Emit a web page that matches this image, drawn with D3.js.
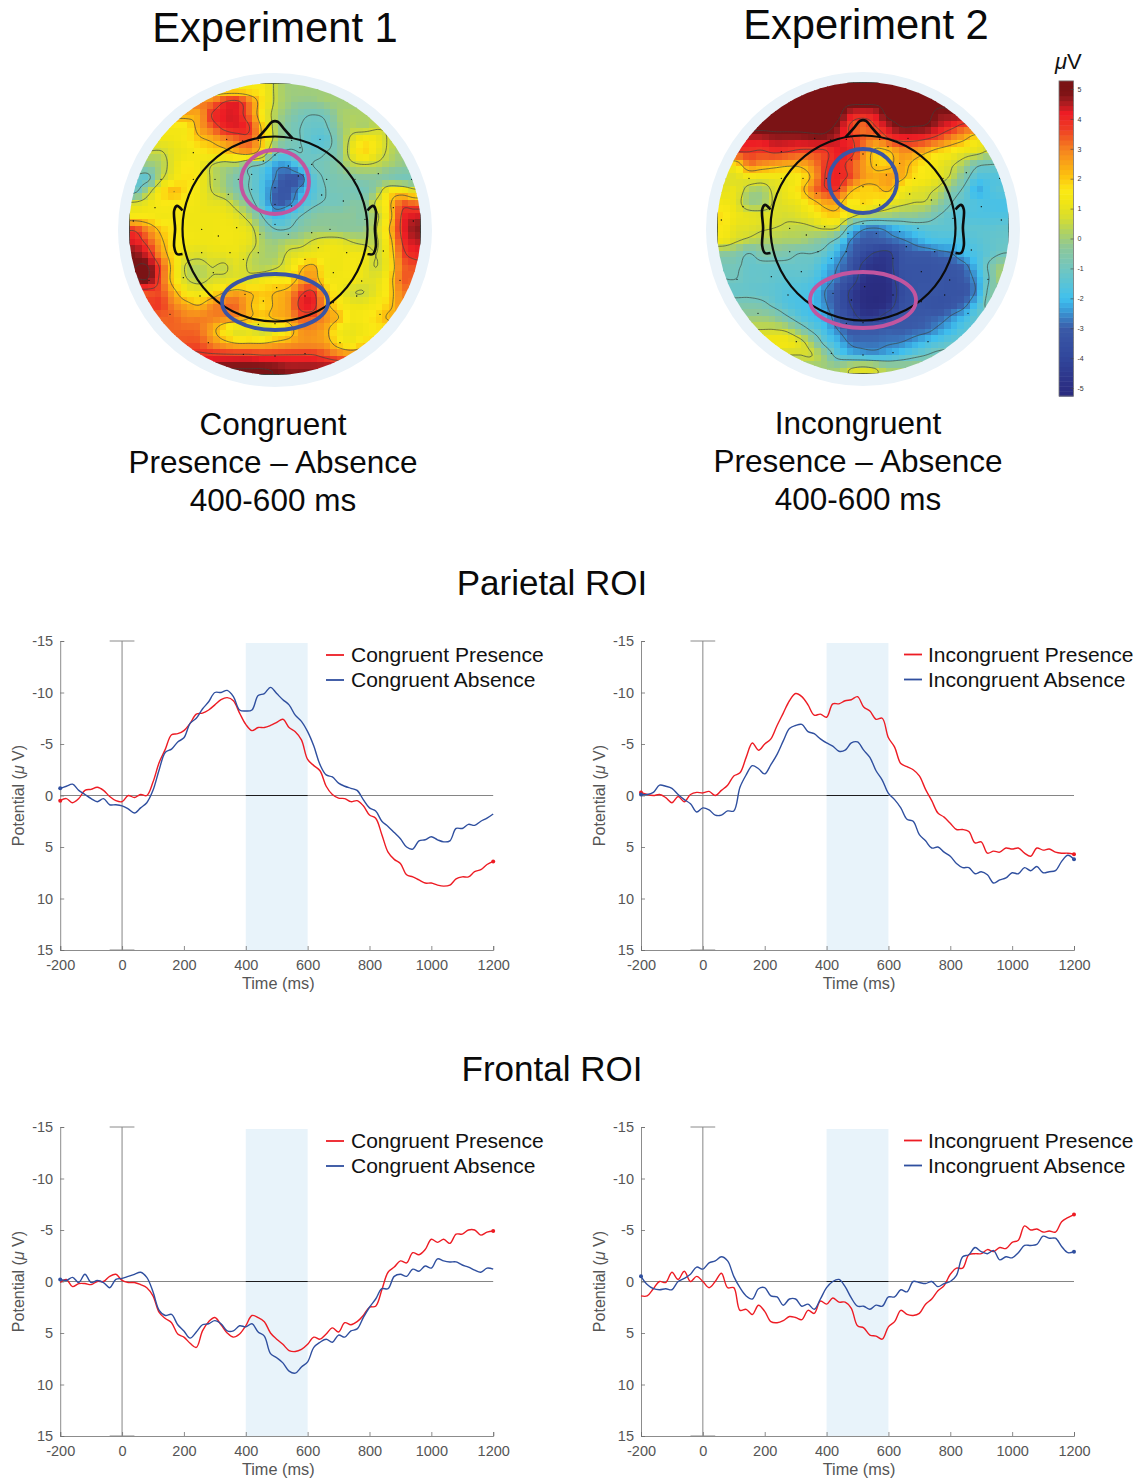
<!DOCTYPE html>
<html>
<head>
<meta charset="utf-8">
<script src="https://cdn.jsdelivr.net/npm/d3@7"></script>
<style>
   html, body { margin: 0; background: #fff; }
   svg { display: block; }
   text { font-family: "Liberation Sans", Arial, sans-serif; }
</style>
</head>
<body>
<svg id="drawing" width="1141" height="1479"></svg>
<script>
const svg = d3.select("svg#drawing");

// time grid of the erp curves, every 20 ms
const times = d3.range(71).map(i => -200 + i * 20);
const xTicks = [-200, 0, 200, 400, 600, 800, 1000, 1200];
const yTicks = [-15, -10, -5, 0, 5, 10, 15];

const parCongPresence = [0.5,0.3,0.7,0.3,-0.5,-0.6,-0.8,-0.5,0.1,0.5,0.6,0,0.2,-0.1,0,-1.3,-3.2,-4.5,-5.9,-6.0,-6.3,-7.0,-7.9,-8.0,-8.3,-8.8,-9.3,-9.5,-9.2,-8.0,-6.9,-6.3,-6.6,-6.6,-6.8,-7.1,-7.4,-6.6,-6.2,-5.4,-3.5,-2.9,-2.4,-0.9,-0.1,0.25,0.3,0.6,0.5,1.0,1.9,2.2,3.8,5.5,6.2,6.6,7.7,7.9,8.2,8.5,8.5,8.7,8.8,8.7,8.1,7.9,7.9,7.4,7.2,6.7,6.4];
const parCongAbsence = [-0.7,-0.9,-1.1,-0.5,-0.1,0.3,0.6,0.3,0.9,0.9,1.0,1.3,1.7,1.2,0.7,-0.5,-2.5,-4.2,-4.5,-5.2,-5.6,-7.0,-7.5,-8.4,-9.1,-10,-10,-10.2,-9.6,-8.3,-8.2,-8.3,-9.7,-9.9,-10.5,-9.9,-9.3,-8.8,-7.8,-7.2,-6.2,-4.8,-3.0,-2.0,-1.8,-1.2,-0.9,-0.7,-0.5,0.4,1.2,1.5,2.5,3.0,3.6,4.2,5.0,5.2,4.4,4.3,4.0,4.3,4.5,4.4,3.2,3.2,2.8,2.9,2.5,2.2,1.8];
const parIncPresence = [-0.3,-0.1,0,-0.1,0.2,0.7,0.1,0.6,-0.1,-0.3,-0.25,-0.4,0,-0.5,-1.0,-1.9,-2.2,-3.7,-5.1,-4.4,-5.0,-5.5,-6.8,-8.0,-9.2,-9.9,-9.6,-8.8,-7.8,-7.9,-7.6,-8.9,-8.9,-9.2,-9.3,-9.6,-8.6,-8.2,-7.4,-7.5,-5.6,-4.7,-3.1,-2.8,-2.5,-1.9,-0.6,0.5,1.7,2.1,2.7,3.3,3.3,3.5,4.6,4.5,5.6,5.4,5.5,5.1,5.2,5.1,5.6,5.9,5.1,5.3,5.2,5.5,5.6,5.6,5.7];
const parIncAbsence = [-0.1,-0.1,-0.3,-1,-0.9,-0.7,-0.1,0.4,0.8,1.6,1.2,1.4,1.9,1.9,1.5,1.5,-0.8,-2.0,-2.9,-2.6,-2.1,-3.0,-4.0,-5.3,-6.5,-6.8,-6.9,-6.2,-6.0,-5.5,-5.1,-4.8,-4.3,-4.4,-5.1,-5.2,-4.4,-3.7,-2.4,-1.5,-0.2,0.4,1.2,2.3,2.5,3.8,4.4,5.1,5.0,5.5,5.9,6.6,7.0,7.0,7.6,7.4,7.7,8.5,8.2,8.0,7.5,7.6,7.0,7.3,6.9,7.5,7.4,7.3,6.4,5.8,6.2];
const froCongPresence = [0.1,-0.2,0.5,0.2,0.2,0.3,0,0,-0.5,-0.7,-0.1,0.1,0.1,0.3,0.6,1.4,3.0,3.6,4.0,5.1,5.4,6.0,6.4,4.8,3.9,3.5,4.2,5.0,5.4,5.1,4.3,3.3,3.5,3.9,5.0,5.6,6.1,6.7,6.8,6.6,6.1,5.4,5.6,5.1,4.5,4.9,4.0,4.2,3.9,3.3,2.5,2.4,0.8,-0.9,-1.4,-2.0,-1.8,-2.8,-2.6,-3.1,-4.1,-3.8,-4.1,-3.7,-4.6,-4.6,-5.0,-5.0,-4.5,-4.8,-4.9];
const froCongAbsence = [-0.2,-0.1,-0.4,0.1,-0.7,0.1,-0.1,0.1,0.6,-0.2,-0.3,-0.5,-0.7,-0.9,-0.4,1.0,2.8,3.3,3.2,4.2,4.8,5.5,4.9,4.2,4.1,3.8,4.1,4.8,4.8,4.3,4.4,4.1,4.9,5.3,7.0,7.4,7.9,8.7,8.9,8.3,7.8,6.4,5.9,5.6,5.9,5.2,5.4,4.8,4.6,3.5,2.5,1.7,0.7,0.7,-0.5,-0.7,-0.5,-1.2,-1.0,-1.5,-1.3,-2.2,-2.0,-1.9,-1.9,-1.6,-1.4,-1.1,-0.9,-1.3,-1.2];
const froIncPresence = [1.4,1.4,0.7,0,0.1,-0.9,-0.2,-1.0,0,-0.5,0,0.6,0,-0.8,0.6,0.6,2.8,2.7,3.2,2.3,2.9,3.9,4.0,3.8,3.4,3.5,3.7,2.8,3.1,1.9,2.2,1.6,2.0,2.0,2.6,4.3,4.5,5.2,5.3,5.6,4.4,3.9,2.8,3.2,3.3,3.1,2.2,1.7,0.9,0.4,-0.7,-1.3,-1.3,-2.6,-2.7,-2.7,-3.1,-2.9,-3.3,-3.2,-3.8,-4.0,-5.4,-5.0,-5.1,-4.8,-4.9,-4.8,-5.8,-6.2,-6.5];
const froIncAbsence = [-0.5,0.3,0.7,0.8,0.7,0.8,0,-0.3,-0.7,-1.4,-1.2,-1.8,-2.0,-2.4,-2.0,-0.5,0.6,1.4,1.7,0.7,0.6,1.4,1.5,2.3,1.7,1.7,2.4,2.2,2.7,1.7,0.6,0,-0.2,0.5,1.6,2.4,2.4,2.7,2.3,2.4,1.5,1.5,0.8,1.0,0,0.1,0.2,0,0.5,0.2,0,-0.6,-2.4,-2.6,-3.3,-2.9,-2.7,-3.0,-2.1,-2.4,-2.3,-2.8,-3.5,-3.5,-3.6,-4.4,-4.2,-4.2,-3.4,-2.8,-2.9];

// topography, 23 rows, each row starts at the column named in its start list
const topoOneStart = [10,6,5,4,3,2,1,1,0,0,0,0,0,0,1,1,2,2,3,4,5,7,10];
const topoOne = [
   [1.5,0.5,0],
   [3,3.8,4,3,1.7,0.5,0,-0.2,-0.2,0],
   [2.5,3.8,4.2,4.2,3.2,1.5,0.3,-0.3,-0.8,-1,-0.8,0,0.2],
   [1.5,2.5,3.3,4,4.2,3.8,2,0.3,-0.6,-1,-1.2,-1.1,-0.2,0.3,0.2,0.5],
   [1.2,1.5,2,2.3,2.8,3.2,3.4,2,0.3,-0.6,-1,-1.4,-1.4,-0.4,0.8,1.5,1.2,0.5],
   [0.5,1,1.2,1.5,1.7,1.8,2.3,2.5,1.5,-0.8,-1.2,-1,-1.2,-1,-0.5,1,1.8,1.1,0.4,0],
   [-0.2,0.2,1,1.6,1.3,0.6,0.2,0.1,-0.8,-1.2,-2.3,-2.4,-1.5,-1,-0.8,-0.4,0.3,0.5,0.4,0.1,-0.2],
   [-1.2,0.4,1.2,1.7,1.4,0.5,0,-0.7,-1,-1.7,-2.6,-3.2,-3,-1.5,-0.9,-0.7,-0.5,-0.4,-0.4,-0.6,-0.8,-0.8],
   [-1.2,0.2,1.5,2.2,1.7,1.3,0.6,0.1,-0.6,-1,-1.8,-2.9,-3.2,-2.3,-1.6,-1,-0.8,-0.8,-0.9,0,1.4,1.5,0.9],
   [0.8,1.1,1.5,1.5,1.4,1.2,1,0.9,0.2,-0.6,-1.6,-2.9,-2.8,-1.9,-1.2,-0.9,-0.9,-0.5,-0.4,0.8,2,3.4,3.2],
   [1.5,1.5,1.3,1.3,1.2,1.2,1.2,1.2,0.9,0.2,-1,-2,-1.6,-1,-0.5,-0.3,-0.3,-0.3,-0.5,0.4,1.8,3.9,4.3],
   [3.6,2.8,2,1.6,1.3,1.2,1.2,1.3,1.2,0.9,-0.2,-1,-1,-0.5,-0.2,-0.2,-0.3,-0.3,-0.2,0.6,2.2,4,4.7],
   [4.2,3.5,2.4,1.6,1.3,1.2,1.2,1.3,1.2,1,0.2,-0.1,0.2,0.3,0.7,1,1,0.6,0.4,0.5,1.8,3.8,4.4],
   [4.8,4.2,2.8,1.7,1,0.8,1,1,1.1,0.6,0.2,0.1,0.7,1,1.2,1.3,1.2,1.3,1.2,0.6,1.6,3.5,4],
   [5,3.6,1.8,0.5,0.3,0.6,0.5,0.9,0.5,0.3,0.5,1,2,2.4,1.3,1.2,1.4,1.1,0.6,1.5,3.2,3.5],
   [4.9,3.5,1.8,0.7,0.4,0.7,0.9,1,0.9,1.2,1.5,1.5,2.5,2.7,1.5,1.3,1.3,1,1,1.8,3.3],
   [3.5,2.5,1.5,1.2,1.6,2.2,2.5,2.2,2,2.2,2.5,3.6,3.9,2.2,1.4,0.7,0.6,1.1,1.8,3],
   [3.7,3,2.5,2.2,2.8,3.2,3.2,2.3,1.8,2.3,2.6,4,4.1,2.5,1.7,1.2,1.2,1.5,2,2.8],
   [3.3,3,3,3,2.8,2.7,2.2,2,2.3,2.5,3.3,3.3,2.8,2.2,1.4,1.5,1.8,2.3],
   [3.3,3.2,2.5,1.6,0.9,1,0.6,1.2,1.7,2.7,2.8,2.4,1.4,1.1,1.3,1.6],
   [3.5,3,2.5,2.2,2.2,2.2,2.4,2.6,2.8,2.8,2.6,1.8,1.4,1.9],
   [4,4,4,3.9,3.9,3.9,3.9,3.9,3.6,3.2,3],
   [5,4.9,4.7]
];
const topoTwoStart = [10,6,5,4,3,2,1,1,0,0,0,0,0,0,1,1,2,2,3,4,5,7,9];
const topoTwo = [
   [5.2,5.2,5.2],
   [5.2,5.2,5.2,5.2,5.2,5.2,5.2,5.2,5.2,5.2],
   [5.2,5.2,5.2,5.2,5.2,4.4,4.2,4.4,5.2,5.2,5.2,5.2,4.8],
   [5.2,5.2,5.2,5.2,5.2,4.8,3.7,3.2,3.8,4.5,5,5,4.9,4.4,4,3.5],
   [4.4,4.6,4.6,4.6,4.7,4.7,4.4,3.9,3.4,3,3.7,4,4,3.8,3.4,2.8,2.3,1.5],
   [3.8,3.7,3.9,3.8,3.6,3.6,3.7,4.2,4.1,2.9,2,2.1,2.8,2.7,2.3,1.8,1.5,1.1,0.9,0.4],
   [1.7,3,2.8,2.6,2.4,2.4,2.9,3.7,4.1,3.5,2.7,2,2,2.5,2,1.5,1.1,0.7,0.1,-0.8,-1],
   [0.9,1.3,1.2,1.2,1.2,1.5,2.4,3.8,4.1,3.6,2.7,2.4,2.6,2.4,1.7,1.4,1,0.4,-0.6,-1.6,-1.6],
   [1,1.1,0.3,0.1,0.8,1.2,1.8,3,3.7,3.8,2.4,1.9,2,2.3,1.4,1,0.8,0.4,-0.5,-1.2,-2.2,-1.7,-1.5],
   [1.3,1,0,0,0.7,1,1.2,1.9,2.5,2.5,1.5,1.8,1.5,1.1,0.8,0.6,0.5,-0.2,-1,-1.4,-1.7,-1.8,-1.8],
   [1.7,1.2,1,0.9,0.8,0.7,0.9,1.2,1.8,1.9,1,0.3,0.1,0,-0.2,-0.2,-0.5,-1,-1.4,-1.6,-1.7,-1.7,-1.7],
   [1.5,1,0.9,0.7,0.6,0.5,0.4,0.5,0.7,0.5,-1.5,-2.4,-2.6,-2.3,-1.9,-1.6,-1.4,-1.4,-1.4,-1.4,-1.4,-1.4,-1.3],
   [1.2,0.7,0.4,0.2,0.2,0.1,0.1,-0.2,-0.6,-1.3,-2.6,-3,-3,-2.9,-2.7,-2.4,-2,-1.8,-1.8,-1.7,-1.5,-1.3,-1.2],
   [-0.3,-0.5,-1,-0.6,-0.6,-0.7,-1,-1,-1.3,-2.2,-2.9,-3.7,-4.3,-4.4,-3.3,-3,-3,-2.8,-2.6,-2,-1.7,-1.3,-1],
   [-0.9,-1.2,-1.2,-1.2,-1.2,-1.2,-1.3,-2,-2.6,-3.2,-4.4,-4.8,-4.6,-3.4,-3.3,-3.3,-3.2,-3.1,-2.8,-1.9,-0.8,0],
   [-1,-1.2,-1.2,-1.3,-1.4,-1.4,-1.6,-2.2,-2.8,-3.5,-4.7,-5,-4.8,-3.6,-3.3,-3.3,-3.2,-3.3,-3,-2.3,-0.9,0.2],
   [-1.2,-1.3,-1.4,-1.6,-1.7,-1.9,-2.6,-3.2,-4.3,-5,-5.2,-5,-3.8,-3.3,-3.2,-3.3,-3.3,-3.2,-2.4,-0.7],
   [-0.7,-0.8,-1.2,-1.6,-1.8,-2,-2.5,-3.3,-4.2,-5,-5.2,-4.8,-3.6,-3.3,-3.3,-3.4,-3.2,-2.8,-1.8,-0.6],
   [-0.1,-0.3,-0.9,-1.5,-1.9,-2.2,-3,-3.7,-4.5,-4.4,-3.7,-3.2,-3.1,-3,-2.9,-2.5,-2,-1.3],
   [0.6,0.4,-0.4,-1.2,-1.9,-2.6,-3.1,-3.1,-3.1,-3,-3,-2.9,-2.8,-2.4,-2,-1.5],
   [1.3,0.9,0,-1.3,-2,-2.7,-2.8,-2.8,-2.7,-2.6,-2.3,-1.9,-1.6,-1.3],
   [0.6,-0.2,-1.4,-1.9,-2.1,-2.2,-2,-1.7,-1.3,-1,-0.7],
   [0,0.5,0.7,0.5,0]
];

const topoLevels = [-4.2, -2.6, -1, 0.6, 2.2, 3.8, 5];
const colorStops = [-5.3,-5,-4,-3,-2.3,-2,-1,-0.3,0.3,0.7,1.2,1.6,2.1,3,3.7,4.2,4.6,4.9,5.3];
const colorValues = ["#292b7f","#2b2e83","#31469b","#3a5aa8","#3aa5df","#40c0ee","#72c6c0","#8cc79a","#b5d35a","#d7dd30","#f0e514","#fbe914","#fdc20f","#f58220","#ee3a24","#ed1c24","#a01c1f","#7b1315","#7b1315"];
const barTicks = [5, 4, 3, 2, 1, 0, -1, -2, -3, -4, -5];

// electrode dots, read in zoomed pixels of the map, 876 across
const elecX = [380,428,475,575,660,280,525,600,455,490,565,635,112,183,280,345,415,595,680,765,835,935,385,455,525,665,730,880,165,525,575,305,355,410,480,525,565,635,690,795,940,100,305,390,475,655,740,850,340,430,530,615,700,147,250,785,900,435,490,530,615,700,210,300,770,840,525,430,525,615,325,720,475];
const elecY = [265,270,268,268,265,305,312,290,370,330,345,340,385,385,385,385,385,375,385,385,368,385,430,415,410,432,450,470,470,460,465,535,555,530,550,520,550,545,535,505,510,510,605,605,605,590,605,600,665,625,665,625,665,688,680,690,688,730,750,710,735,755,790,735,735,790,818,910,915,908,875,875,820];

const noseX = [-0.19,-0.1,-0.03,0.03,0.1,0.19];
const noseY = [-0.98,-1.08,-1.16,-1.16,-1.08,-0.98];
const earX = [1.0,1.06,1.09,1.08,1.09,1.06,1.0];
const earY = [-0.2,-0.25,-0.2,0,0.19,0.27,0.27];

const color = d3.scaleLinear().domain(colorStops).range(colorValues).clamp(true);

// pads the rows to 23 columns with their edge value
function fillGrid(rows, starts) {
   return rows.map((row, i) => d3.range(23).map(j => {
      const k = Math.max(0, Math.min(row.length - 1, j - starts[i]));
      return row[k];
   }));
}

// catmull-rom sampling of the read grid, the map itself was interpolated too
function sample(grid, gx, gy) {
   const cr = (a, b, c, d, t) => 0.5 * (2 * b + (c - a) * t + (2 * a - 5 * b + 4 * c - d) * t * t + (3 * b - a - 3 * c + d) * t * t * t);
   const at = (r, c) => grid[Math.max(0, Math.min(22, r))][Math.max(0, Math.min(22, c))];
   const r0 = Math.floor(gy), c0 = Math.floor(gx);
   const tr = gy - r0, tc = gx - c0;
   const col = [-1, 0, 1, 2].map(dr => cr(at(r0 + dr, c0 - 1), at(r0 + dr, c0), at(r0 + dr, c0 + 1), at(r0 + dr, c0 + 2), tc));
   return cr(col[0], col[1], col[2], col[3], tr);
}

function drawMap(id, cx, cy, rows, starts, rings) {
   const g = svg.append("g");
   const R = 146, cells = 45, grid = fillGrid(rows, starts);
   const cell = 2 * R / cells;
   const px = d3.scaleLinear().domain([0, cells]).range([cx - R, cx + R]);
   const py = d3.scaleLinear().domain([0, cells]).range([cy - R, cy + R]);
   const toGrid = d3.scaleLinear().domain([0, cells]).range([-0.5, 22.5]);

   g.append("circle").attr("cx", cx).attr("cy", cy + 1).attr("r", 157).attr("fill", "#eaf3f9");
   svg.append("clipPath").attr("id", id).append("circle").attr("cx", cx).attr("cy", cy).attr("r", R);
   const inner = g.append("g").attr("clip-path", `url(#${id})`);

   const cellData = d3.cross(d3.range(cells), d3.range(cells));
   inner.selectAll("rect").data(cellData).enter().append("rect")
      .attr("x", d => px(d[0]))
      .attr("y", d => py(d[1]))
      .attr("width", cell + 0.5)
      .attr("height", cell + 0.5)
      .attr("shape-rendering", "crispEdges")
      .attr("fill", d => color(sample(grid, toGrid(d[0] + 0.5), toGrid(d[1] + 0.5))));

   // contour lines on a finer sampling
   const n = 184, values = [];
   const fine = d3.scaleLinear().domain([0, n]).range([-0.5, 22.5]);
   for (let y = 0; y < n; y++) {
      for (let x = 0; x < n; x++) values.push(sample(grid, fine(x + 0.5), fine(y + 0.5)));
   }
   const contours = d3.contours().size([n, n]).thresholds(topoLevels)(values);
   const k = 2 * R / n;
   const path = d3.geoPath(d3.geoTransform({
      point(x, y) { this.stream.point(cx - R + x * k, cy - R + y * k); }
   }));
   inner.selectAll("path.iso").data(contours).enter().append("path")
      .attr("class", "iso")
      .attr("d", path)
      .attr("fill", "none")
      .attr("stroke", "#3a4440")
      .attr("stroke-opacity", 0.85)
      .attr("stroke-width", 0.8);

   const ex = d3.scaleLinear().domain([87, 963]).range([cx - R, cx + R]);
   const ey = d3.scaleLinear().domain([96, 972]).range([cy - R, cy + R]);
   inner.selectAll("circle.el").data(elecX).enter().append("circle")
      .attr("class", "el")
      .attr("cx", d => ex(d))
      .attr("cy", (d, i) => ey(elecY[i]))
      .attr("r", 0.7)
      .attr("fill", "#111");

   // head outline
   const r = 92.5;
   const hx = d3.scaleLinear().domain([-1, 1]).range([cx - r, cx + r]);
   const hy = d3.scaleLinear().domain([-1, 1]).range([cy - r, cy + r]);
   const line = d3.line().curve(d3.curveCatmullRom);
   g.append("circle").attr("cx", cx).attr("cy", cy).attr("r", r)
      .attr("fill", "none").attr("stroke", "#0c0c0c").attr("stroke-width", 2.2);
   const shapes = [
      noseX.map((v, i) => [hx(v), hy(noseY[i])]),
      earX.map((v, i) => [hx(v), hy(earY[i])]),
      earX.map((v, i) => [hx(-v), hy(earY[i])])
   ];
   g.selectAll("path.head").data(shapes).enter().append("path")
      .attr("class", "head")
      .attr("d", d => line(d))
      .attr("fill", "none")
      .attr("stroke", "#0c0c0c")
      .attr("stroke-width", 2.6);

   g.selectAll("ellipse").data(rings).enter().append("ellipse")
      .attr("cx", cx)
      .attr("cy", d => d.cy)
      .attr("rx", d => d.rx)
      .attr("ry", d => d.ry)
      .attr("fill", "none")
      .attr("stroke", d => d.color)
      .attr("stroke-width", 3.8);
}

function drawColorbar() {
   const y = d3.scaleLinear().domain([5, -5]).range([89, 388]);
   const steps = d3.range(64).map(i => -5.27 + i * 10.54 / 64);
   const h = 10.54 / 64;
   const g = svg.append("g");
   g.selectAll("rect").data(steps).enter().append("rect")
      .attr("x", 1059)
      .attr("width", 14.5)
      .attr("y", d => y(d + h))
      .attr("height", Math.abs(y(h) - y(0)) + 0.5)
      .attr("fill", d => color(d + h / 2));
   g.append("rect").attr("x", 1059).attr("y", y(5.27)).attr("width", 14.5).attr("height", y(-5.27) - y(5.27))
      .attr("fill", "none").attr("stroke", "#777").attr("stroke-width", 0.8);
   const axis = d3.axisRight(y).tickValues(barTicks).tickSize(-3).tickPadding(4).tickFormat(String);
   const a = g.append("g").attr("transform", "translate(1073.5,0)").call(axis);
   a.select(".domain").remove();
   a.selectAll("line").attr("stroke", "#444").attr("stroke-width", 0.6);
   a.selectAll("text").attr("fill", "#333").attr("font-size", 7).attr("font-family", "Liberation Sans");
   g.append("text").attr("x", 1055).attr("y", 69).attr("font-size", 22).attr("fill", "#111")
      .html('<tspan font-style="italic">μ</tspan>V');
}

function drawPanel(left, top, seriesA, seriesB, names, ends) {
   const x = d3.scaleLinear().domain([-200, 1200]).range([left, left + 433]);
   const y = d3.scaleLinear().domain([-15, 15]).range([top, top + 309]);
   const g = svg.append("g");
   const grey = "#6f6f6f";
   const lineColors = ["#ed1c24", "#2f4f9f"];
   const rightSide = left > 300;

   g.append("rect")
      .attr("x", x(400))
      .attr("y", top + 2)
      .attr("width", x(600) - x(400))
      .attr("height", y(15) - top - 2)
      .attr("fill", "#e8f3fa");

   const xAxis = d3.axisBottom(x).tickValues(xTicks).tickSize(-4).tickPadding(9.5).tickFormat(String);
   const yAxis = d3.axisLeft(y).tickValues(yTicks).tickSize(-4).tickPadding(7).tickFormat(String);
   const ax = g.append("g").attr("transform", `translate(0,${y(15)})`).call(xAxis);
   const ay = g.append("g").attr("transform", `translate(${left},0)`).call(yAxis);
   [ax, ay].forEach(a => {
      a.selectAll(".domain").attr("stroke", grey).attr("stroke-width", 0.8);
      a.selectAll("line").attr("stroke", grey).attr("stroke-width", 0.8);
      a.selectAll("text").attr("fill", "#555").attr("font-size", 14.5).attr("font-family", "Liberation Sans");
   });

   // zero lines and the caps of the vertical one
   g.append("line").attr("x1", x(-200)).attr("x2", x(1200)).attr("y1", y(0)).attr("y2", y(0))
      .attr("stroke", "#777").attr("stroke-width", 0.9);
   g.append("line").attr("x1", x(400)).attr("x2", x(600)).attr("y1", y(0)).attr("y2", y(0))
      .attr("stroke", "#111").attr("stroke-width", 0.9);
   g.append("line").attr("x1", x(0)).attr("x2", x(0)).attr("y1", y(-15)).attr("y2", y(15))
      .attr("stroke", "#777").attr("stroke-width", 0.9);
   [-15, 15].forEach(v => {
      g.append("line").attr("x1", x(-40)).attr("x2", x(40)).attr("y1", y(v)).attr("y2", y(v))
         .attr("stroke", "#8a8a8a").attr("stroke-width", 1);
   });

   const both = [seriesA, seriesB];
   const line = d3.line().x((d, i) => x(times[i])).y(d => y(d)).curve(d3.curveCatmullRom);
   g.selectAll("path.erp").data(both).enter().append("path")
      .attr("class", "erp")
      .attr("d", d => line(d))
      .attr("fill", "none")
      .attr("stroke", (d, i) => lineColors[i])
      .attr("stroke-width", 1.4);

   // the thick little stubs where some curves begin or end
   g.selectAll("circle.stub").data(ends).enter().append("circle")
      .attr("class", "stub")
      .attr("cx", d => x(times[d[1]]))
      .attr("cy", d => y(both[d[0]][d[1]]))
      .attr("r", 2)
      .attr("fill", d => lineColors[d[0]]);

   g.append("text").attr("x", x(505)).attr("y", y(15) + 39).attr("text-anchor", "middle")
      .attr("fill", "#555").attr("font-size", 16.3).text("Time (ms)");
   g.append("text").attr("transform", `translate(${left - 36},${y(0)}) rotate(-90)`).attr("text-anchor", "middle")
      .attr("fill", "#555").attr("font-size", 16)
      .html('Potential (<tspan font-style="italic">μ</tspan> V)');

   names.forEach((name, i) => {
      const ly = top + (rightSide ? 13.5 : 14) + i * 25;
      const lx = rightSide ? left + 263 : Math.round(left) + 266;
      g.append("line").attr("x1", lx).attr("x2", lx + 18).attr("y1", ly).attr("y2", ly)
         .attr("stroke", lineColors[i]).attr("stroke-width", 1.8);
      g.append("text").attr("x", lx + (rightSide ? 24 : 25)).attr("y", ly + 7).attr("font-size", 21).attr("fill", "#111").text(name);
   });
}

function label(txt, x, y, size) {
   svg.append("text").attr("x", x).attr("y", y).attr("text-anchor", "middle")
      .attr("font-size", size).attr("fill", "#0a0a0a").text(txt);
}

const pink = "#c2559f", deepBlue = "#3a55a5";
drawMap("clipOne", 275, 229, topoOne, topoOneStart, [
   { cy: 182, rx: 34, ry: 32, color: pink },
   { cy: 302, rx: 53, ry: 28, color: deepBlue }
]);
drawMap("clipTwo", 863, 228, topoTwo, topoTwoStart, [
   { cy: 181, rx: 34, ry: 32, color: deepBlue },
   { cy: 300, rx: 53, ry: 28, color: pink }
]);
drawColorbar();

label("Experiment 1", 275, 42, 41.7);
label("Experiment 2", 866, 39, 41.7);
["Congruent", "Presence – Absence", "400-600 ms"].forEach((t, i) => label(t, 273, 435 + i * 38, 31.5));
["Incongruent", "Presence – Absence", "400-600 ms"].forEach((t, i) => label(t, 858, 434 + i * 38, 31.5));
label("Parietal ROI", 552, 595, 35);
label("Frontal ROI", 552, 1081, 35);

const congNames = ["Congruent Presence", "Congruent Absence"];
const incNames = ["Incongruent Presence", "Incongruent Absence"];
drawPanel(60.2, 641, parCongPresence, parCongAbsence, congNames, [[0, 0], [1, 0], [0, 70]]);
drawPanel(641, 641, parIncPresence, parIncAbsence, incNames, [[0, 0], [1, 0], [0, 70], [1, 70]]);
drawPanel(60.2, 1127, froCongPresence, froCongAbsence, congNames, [[1, 0], [0, 70]]);
drawPanel(641, 1127, froIncPresence, froIncAbsence, incNames, [[1, 0], [0, 70], [1, 70]]);
</script>
</body>
</html>
